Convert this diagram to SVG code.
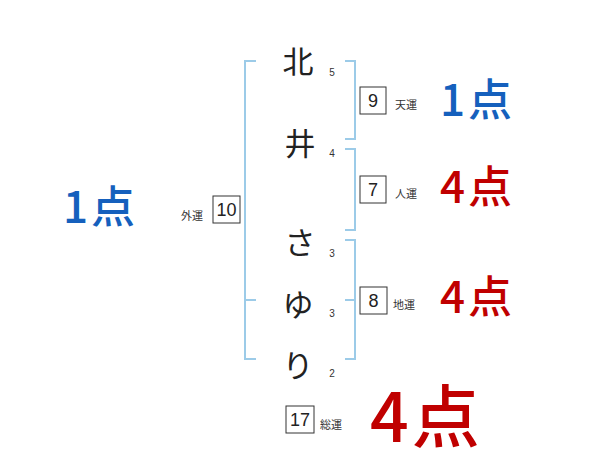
<svg xmlns="http://www.w3.org/2000/svg" width="600" height="470" viewBox="0 0 600 470">
<style>
.br{fill:none;stroke:#9ccbe8;stroke-width:2}
.ch{font-family:"Noto Sans CJK JP","Noto Sans",sans-serif;font-size:31px;fill:#222;text-anchor:middle;dominant-baseline:central}
.sc{font-family:"Liberation Sans",sans-serif;font-size:10px;fill:#333;text-anchor:middle;dominant-baseline:central}
.bx{fill:#fff;stroke:#333;stroke-width:1}
.num{font-family:"Liberation Sans",sans-serif;font-size:18px;fill:#222;text-anchor:middle;dominant-baseline:central}
.lb{font-family:"Noto Sans CJK JP",sans-serif;font-size:11px;fill:#333;dominant-baseline:central}
.pt{font-family:"Noto Sans CJK JP",sans-serif;font-weight:500;dominant-baseline:central;letter-spacing:3px}
.blue{fill:#1560bd}
.red{fill:#c00000}
</style>
<rect width="600" height="470" fill="#fff"/>
<g id="connectors">
<path class="br" d="M256,61 H245 V359 H256 M245,300 H256"/>
<path class="br" d="M345,61 H355 V139 H345"/>
<path class="br" d="M345,149 H355 V230 H345"/>
<path class="br" d="M345,240 H355 V359 H345 M345,300 H355"/>
</g>
<g id="char-kita"><text class="ch" x="298" y="59">北</text><text class="sc" x="332" y="72">5</text></g>
<g id="char-i"><text class="ch" x="300" y="141">井</text><text class="sc" x="332" y="153">4</text></g>
<g id="char-sa"><text class="ch" x="300" y="240">さ</text><text class="sc" x="332" y="253">3</text></g>
<g id="char-yu"><text class="ch" x="298" y="302">ゆ</text><text class="sc" x="332" y="313">3</text></g>
<g id="char-ri"><text class="ch" x="298" y="363">り</text><text class="sc" x="332" y="373">2</text></g>
<g id="gaiun"><text class="lb" x="181" y="215">外運</text><rect class="bx" x="213" y="196" width="27" height="27"/><text class="num" x="226.5" y="210">10</text></g>
<g id="tenun"><rect class="bx" x="360" y="87" width="26" height="27"/><text class="num" x="373" y="101">9</text><text class="lb" x="395" y="104">天運</text></g>
<g id="jinun"><rect class="bx" x="360" y="176" width="26" height="27"/><text class="num" x="373" y="190">7</text><text class="lb" x="395" y="193">人運</text></g>
<g id="chiun"><rect class="bx" x="360" y="287" width="27" height="27"/><text class="num" x="373.5" y="301">8</text><text class="lb" x="393" y="304">地運</text></g>
<g id="souun"><rect class="bx" x="286" y="406" width="28" height="27"/><text class="num" x="300" y="420">17</text><text class="lb" x="320" y="424">総運</text></g>
<g id="score-gai"><text class="pt blue" x="63" y="204" font-size="44">1点</text></g>
<g id="score-ten"><text class="pt blue" x="440" y="97" font-size="44">1点</text></g>
<g id="score-jin"><text class="pt red" x="440" y="184" font-size="44">4点</text></g>
<g id="score-chi"><text class="pt red" x="440" y="294" font-size="44">4点</text></g>
<g id="score-sou"><text class="pt red" x="370" y="412" font-size="68">4点</text></g>
</svg>
